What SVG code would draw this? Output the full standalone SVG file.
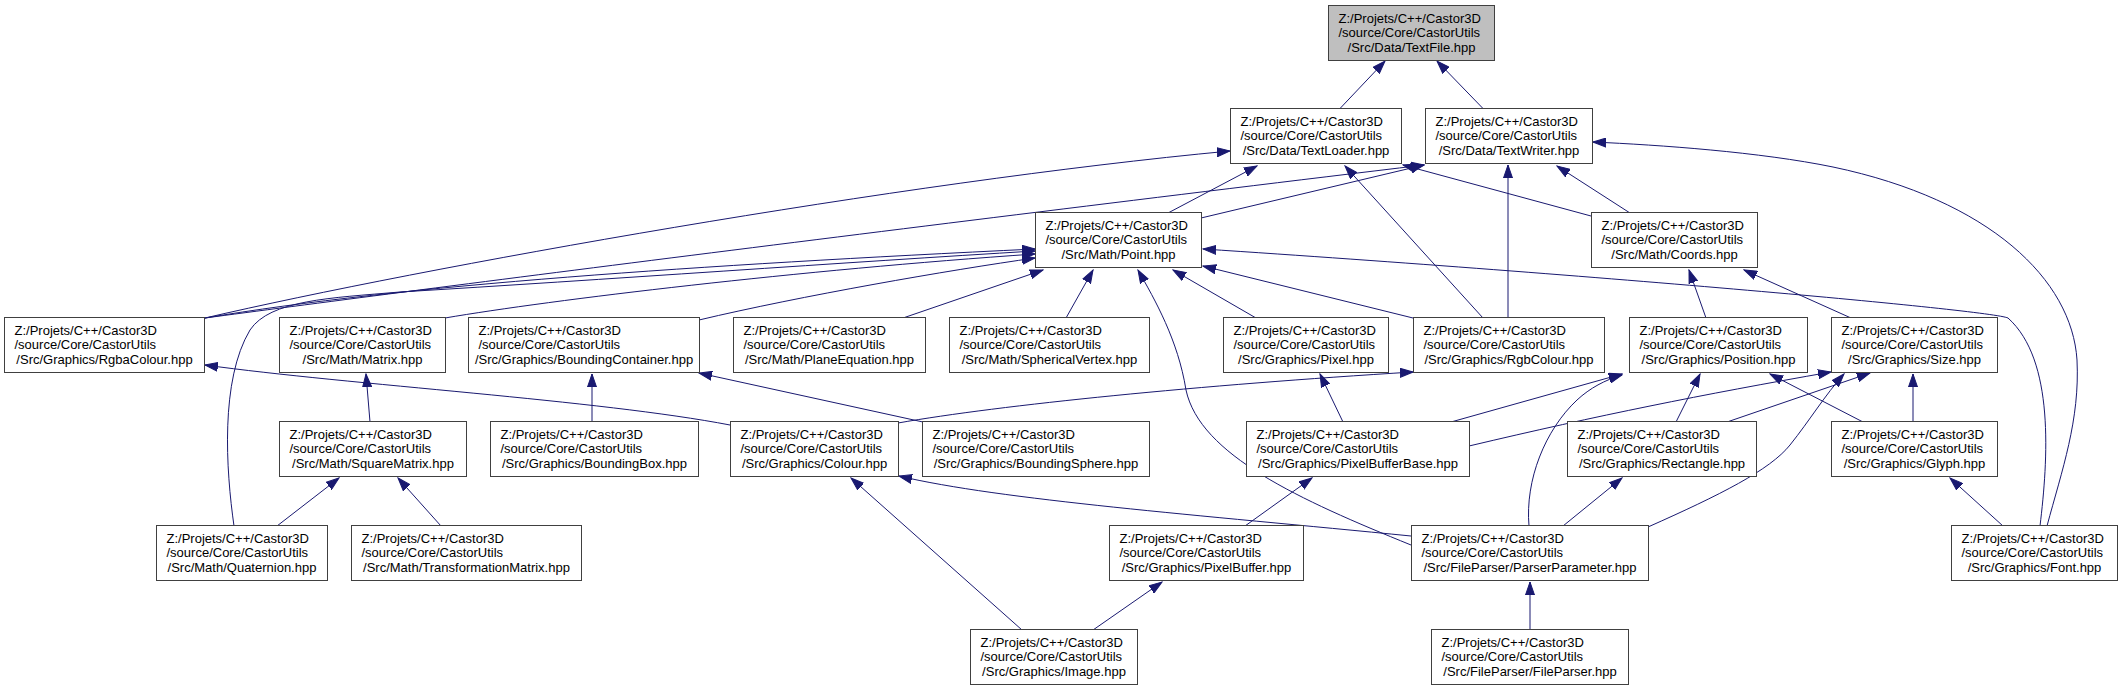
<svg xmlns="http://www.w3.org/2000/svg" width="2122" height="691" viewBox="0 0 2122 691">
<style>
.n rect{fill:#ffffff;stroke:#404040;stroke-width:1}
.n.root rect{fill:#bfbfbf}
.n text{font-family:"Liberation Sans",Arial,sans-serif;font-size:13px;fill:#000000}
.n text.c{text-anchor:middle}
#edges path{fill:none;stroke:#191970;stroke-width:1;marker-end:url(#ah)}
</style>
<defs>
<marker id="ah" viewBox="0 0 14 10" markerWidth="14" markerHeight="10" refX="13" refY="5" orient="auto" markerUnits="userSpaceOnUse">
<path d="M0,0.5 L13,5 L0,9.5 z" fill="#191970" stroke="#191970" stroke-width="1"/>
</marker>
</defs>
<rect x="0" y="0" width="2122" height="691" fill="#ffffff"/>
<g id="edges">
<path d="M1340,108.5 L1385,61"/>
<path d="M1483,108.5 L1437,61"/>
<path d="M205,318 C420,268 900,182 1230,151"/>
<path d="M205,318 C400,292 900,228 1424,165"/>
<path d="M1168,213 L1257,166"/>
<path d="M1483,318 L1345,166"/>
<path d="M1591,216 L1403,165"/>
<path d="M1201,218 L1424,165"/>
<path d="M1508,318 L1508,165"/>
<path d="M1630,213 L1557,166"/>
<path d="M2047,526 C2062,470 2080,420 2077,360 C2072,280 1990,200 1833,167 C1760,152 1660,145 1593,142"/>
<path d="M2040,526 C2048,460 2055,360 2008,318 C1990,310 1600,275 1203,249"/>
<path d="M1706,318 L1689,270"/>
<path d="M1851,318 L1744,270"/>
<path d="M277,526 L339,478"/>
<path d="M441,526 L398,478"/>
<path d="M370,422 L366,374"/>
<path d="M592,422 L592,374"/>
<path d="M923,422 L699,373"/>
<path d="M730,425 C600,400 350,385 205,365"/>
<path d="M898,423 C1000,405 1200,385 1413,372"/>
<path d="M1022,630 L851,478"/>
<path d="M1093,630 L1162,582"/>
<path d="M1245,526 L1312,478"/>
<path d="M1343,422 L1320,374"/>
<path d="M1411,536 C1200,515 1000,500 899,476"/>
<path d="M1411,545 C1300,500 1200,455 1186,390 C1178,340 1155,300 1138,270"/>
<path d="M1530,630 L1530,582"/>
<path d="M1563,526 L1622,478"/>
<path d="M2003,526 L1950,478"/>
<path d="M1913,422 L1913,374"/>
<path d="M1863,422 L1770,374"/>
<path d="M1676,422 L1700,374"/>
<path d="M1727,422 L1870,373"/>
<path d="M1451,422 L1622,374"/>
<path d="M1469,446 C1600,415 1700,395 1831,372"/>
<path d="M1529,526 C1525,480 1545,430 1577,400 C1590,388 1605,380 1622,375"/>
<path d="M1648,527 C1720,495 1770,470 1790,445 C1810,420 1825,395 1844,374"/>
<path d="M1256,318 L1173,270"/>
<path d="M1066,318 L1093,270"/>
<path d="M903,318 L1043,270"/>
<path d="M699,320 C800,296 950,270 1035,258"/>
<path d="M445,318 C550,300 800,270 1035,254"/>
<path d="M205,318 C400,285 700,265 1035,249"/>
<path d="M234,526 C226,470 220,380 250,330 C270,300 330,298 400,292 C600,280 850,262 1035,251"/>
<path d="M1413,318 L1203,266"/>
</g>
<g id="node-textfile" class="n root"><rect x="1328.5" y="5.5" width="166" height="55"/><text x="1338.5" y="22.5">Z:/Projets/C++/Castor3D</text><text x="1338.5" y="37">/source/Core/CastorUtils</text><text class="c" x="1411.5" y="51.5">/Src/Data/TextFile.hpp</text></g>
<g id="node-textloader" class="n"><rect x="1230.5" y="108.5" width="171" height="55"/><text x="1240.5" y="125.5">Z:/Projets/C++/Castor3D</text><text x="1240.5" y="140">/source/Core/CastorUtils</text><text class="c" x="1316" y="154.5">/Src/Data/TextLoader.hpp</text></g>
<g id="node-textwriter" class="n"><rect x="1425.5" y="108.5" width="167" height="55"/><text x="1435.5" y="125.5">Z:/Projets/C++/Castor3D</text><text x="1435.5" y="140">/source/Core/CastorUtils</text><text class="c" x="1509" y="154.5">/Src/Data/TextWriter.hpp</text></g>
<g id="node-point" class="n"><rect x="1035.5" y="212.5" width="166" height="55"/><text x="1045.5" y="229.5">Z:/Projets/C++/Castor3D</text><text x="1045.5" y="244">/source/Core/CastorUtils</text><text class="c" x="1118.5" y="258.5">/Src/Math/Point.hpp</text></g>
<g id="node-coords" class="n"><rect x="1591.5" y="212.5" width="166" height="55"/><text x="1601.5" y="229.5">Z:/Projets/C++/Castor3D</text><text x="1601.5" y="244">/source/Core/CastorUtils</text><text class="c" x="1674.5" y="258.5">/Src/Math/Coords.hpp</text></g>
<g id="node-rgbacolour" class="n"><rect x="4.5" y="317.5" width="200" height="55"/><text x="14.5" y="334.5">Z:/Projets/C++/Castor3D</text><text x="14.5" y="349">/source/Core/CastorUtils</text><text class="c" x="104.5" y="363.5">/Src/Graphics/RgbaColour.hpp</text></g>
<g id="node-matrix" class="n"><rect x="279.5" y="317.5" width="166" height="55"/><text x="289.5" y="334.5">Z:/Projets/C++/Castor3D</text><text x="289.5" y="349">/source/Core/CastorUtils</text><text class="c" x="362.5" y="363.5">/Src/Math/Matrix.hpp</text></g>
<g id="node-boundingcontainer" class="n"><rect x="468.5" y="317.5" width="231" height="55"/><text x="478.5" y="334.5">Z:/Projets/C++/Castor3D</text><text x="478.5" y="349">/source/Core/CastorUtils</text><text class="c" x="584" y="363.5">/Src/Graphics/BoundingContainer.hpp</text></g>
<g id="node-planeequation" class="n"><rect x="733.5" y="317.5" width="192" height="55"/><text x="743.5" y="334.5">Z:/Projets/C++/Castor3D</text><text x="743.5" y="349">/source/Core/CastorUtils</text><text class="c" x="829.5" y="363.5">/Src/Math/PlaneEquation.hpp</text></g>
<g id="node-sphericalvertex" class="n"><rect x="949.5" y="317.5" width="200" height="55"/><text x="959.5" y="334.5">Z:/Projets/C++/Castor3D</text><text x="959.5" y="349">/source/Core/CastorUtils</text><text class="c" x="1049.5" y="363.5">/Src/Math/SphericalVertex.hpp</text></g>
<g id="node-pixel" class="n"><rect x="1223.5" y="317.5" width="165" height="55"/><text x="1233.5" y="334.5">Z:/Projets/C++/Castor3D</text><text x="1233.5" y="349">/source/Core/CastorUtils</text><text class="c" x="1306" y="363.5">/Src/Graphics/Pixel.hpp</text></g>
<g id="node-rgbcolour" class="n"><rect x="1413.5" y="317.5" width="191" height="55"/><text x="1423.5" y="334.5">Z:/Projets/C++/Castor3D</text><text x="1423.5" y="349">/source/Core/CastorUtils</text><text class="c" x="1509" y="363.5">/Src/Graphics/RgbColour.hpp</text></g>
<g id="node-position" class="n"><rect x="1629.5" y="317.5" width="178" height="55"/><text x="1639.5" y="334.5">Z:/Projets/C++/Castor3D</text><text x="1639.5" y="349">/source/Core/CastorUtils</text><text class="c" x="1718.5" y="363.5">/Src/Graphics/Position.hpp</text></g>
<g id="node-size" class="n"><rect x="1831.5" y="317.5" width="166" height="55"/><text x="1841.5" y="334.5">Z:/Projets/C++/Castor3D</text><text x="1841.5" y="349">/source/Core/CastorUtils</text><text class="c" x="1914.5" y="363.5">/Src/Graphics/Size.hpp</text></g>
<g id="node-squarematrix" class="n"><rect x="279.5" y="421.5" width="187" height="55"/><text x="289.5" y="438.5">Z:/Projets/C++/Castor3D</text><text x="289.5" y="453">/source/Core/CastorUtils</text><text class="c" x="373" y="467.5">/Src/Math/SquareMatrix.hpp</text></g>
<g id="node-boundingbox" class="n"><rect x="490.5" y="421.5" width="208" height="55"/><text x="500.5" y="438.5">Z:/Projets/C++/Castor3D</text><text x="500.5" y="453">/source/Core/CastorUtils</text><text class="c" x="594.5" y="467.5">/Src/Graphics/BoundingBox.hpp</text></g>
<g id="node-colour" class="n"><rect x="730.5" y="421.5" width="168" height="55"/><text x="740.5" y="438.5">Z:/Projets/C++/Castor3D</text><text x="740.5" y="453">/source/Core/CastorUtils</text><text class="c" x="814.5" y="467.5">/Src/Graphics/Colour.hpp</text></g>
<g id="node-boundingsphere" class="n"><rect x="922.5" y="421.5" width="227" height="55"/><text x="932.5" y="438.5">Z:/Projets/C++/Castor3D</text><text x="932.5" y="453">/source/Core/CastorUtils</text><text class="c" x="1036" y="467.5">/Src/Graphics/BoundingSphere.hpp</text></g>
<g id="node-pixelbufferbase" class="n"><rect x="1246.5" y="421.5" width="223" height="55"/><text x="1256.5" y="438.5">Z:/Projets/C++/Castor3D</text><text x="1256.5" y="453">/source/Core/CastorUtils</text><text class="c" x="1358" y="467.5">/Src/Graphics/PixelBufferBase.hpp</text></g>
<g id="node-rectangle" class="n"><rect x="1567.5" y="421.5" width="189" height="55"/><text x="1577.5" y="438.5">Z:/Projets/C++/Castor3D</text><text x="1577.5" y="453">/source/Core/CastorUtils</text><text class="c" x="1662" y="467.5">/Src/Graphics/Rectangle.hpp</text></g>
<g id="node-glyph" class="n"><rect x="1831.5" y="421.5" width="166" height="55"/><text x="1841.5" y="438.5">Z:/Projets/C++/Castor3D</text><text x="1841.5" y="453">/source/Core/CastorUtils</text><text class="c" x="1914.5" y="467.5">/Src/Graphics/Glyph.hpp</text></g>
<g id="node-quaternion" class="n"><rect x="156.5" y="525.5" width="171" height="55"/><text x="166.5" y="542.5">Z:/Projets/C++/Castor3D</text><text x="166.5" y="557">/source/Core/CastorUtils</text><text class="c" x="242" y="571.5">/Src/Math/Quaternion.hpp</text></g>
<g id="node-transformationmatrix" class="n"><rect x="351.5" y="525.5" width="230" height="55"/><text x="361.5" y="542.5">Z:/Projets/C++/Castor3D</text><text x="361.5" y="557">/source/Core/CastorUtils</text><text class="c" x="466.5" y="571.5">/Src/Math/TransformationMatrix.hpp</text></g>
<g id="node-pixelbuffer" class="n"><rect x="1109.5" y="525.5" width="194" height="55"/><text x="1119.5" y="542.5">Z:/Projets/C++/Castor3D</text><text x="1119.5" y="557">/source/Core/CastorUtils</text><text class="c" x="1206.5" y="571.5">/Src/Graphics/PixelBuffer.hpp</text></g>
<g id="node-parserparameter" class="n"><rect x="1411.5" y="525.5" width="237" height="55"/><text x="1421.5" y="542.5">Z:/Projets/C++/Castor3D</text><text x="1421.5" y="557">/source/Core/CastorUtils</text><text class="c" x="1530" y="571.5">/Src/FileParser/ParserParameter.hpp</text></g>
<g id="node-font" class="n"><rect x="1951.5" y="525.5" width="166" height="55"/><text x="1961.5" y="542.5">Z:/Projets/C++/Castor3D</text><text x="1961.5" y="557">/source/Core/CastorUtils</text><text class="c" x="2034.5" y="571.5">/Src/Graphics/Font.hpp</text></g>
<g id="node-image" class="n"><rect x="970.5" y="629.5" width="167" height="55"/><text x="980.5" y="646.5">Z:/Projets/C++/Castor3D</text><text x="980.5" y="661">/source/Core/CastorUtils</text><text class="c" x="1054" y="675.5">/Src/Graphics/Image.hpp</text></g>
<g id="node-fileparser" class="n"><rect x="1431.5" y="629.5" width="197" height="55"/><text x="1441.5" y="646.5">Z:/Projets/C++/Castor3D</text><text x="1441.5" y="661">/source/Core/CastorUtils</text><text class="c" x="1530" y="675.5">/Src/FileParser/FileParser.hpp</text></g>
</svg>
